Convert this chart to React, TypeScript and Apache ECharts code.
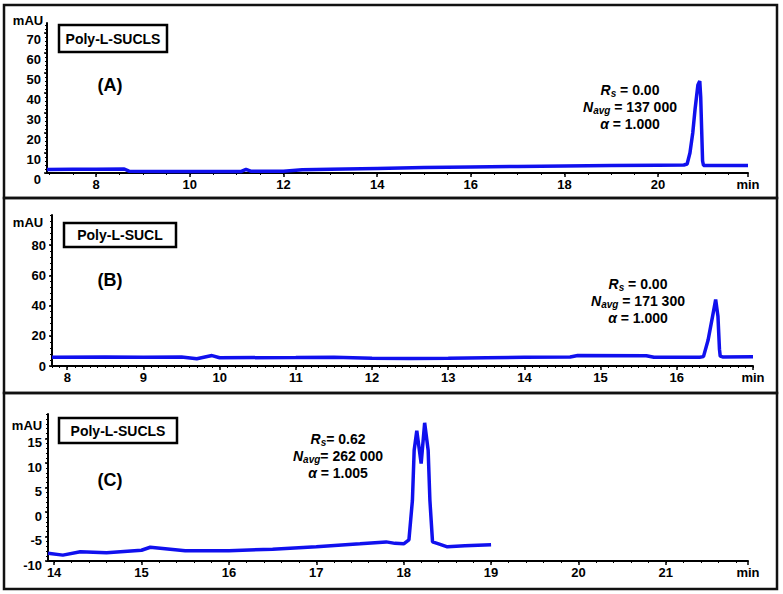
import React, { useEffect, useRef } from "react";
import * as echarts from "echarts";

const FONT = '"Liberation Sans", Arial, Helvetica, sans-serif';
const BLUE = "#1010ee";

// Panel A – Poly-L-SUCLS (time in min, signal in mAU)
const A_TIME = [6.95, 7.5, 8.0, 8.6, 8.7, 9.5, 10.5, 11.1, 11.2, 11.3, 12.0, 12.4, 13.0, 14.0, 15.0, 16.0, 17.0, 18.0, 19.0, 20.0, 20.55, 20.62, 20.68, 20.74, 20.79, 20.85, 20.89, 20.91, 20.93, 20.95, 20.97, 21.4, 21.92];
const A_MAU = [1.8, 1.9, 1.9, 2.0, 0.9, 0.8, 0.7, 0.8, 1.8, 0.9, 0.9, 1.6, 1.9, 2.3, 2.7, 3.0, 3.3, 3.5, 3.7, 3.9, 4.0, 4.5, 10, 20, 32, 44, 46, 38, 22, 6, 3.8, 3.7, 3.7];

// Panel B – Poly-L-SUCL
const B_TIME = [7.8, 8.5, 9.0, 9.5, 9.7, 9.9, 10.0, 11.0, 11.5, 12.0, 12.5, 13.0, 13.5, 14.0, 14.6, 14.7, 15.6, 15.7, 16.3, 16.35, 16.41, 16.47, 16.51, 16.54, 16.56, 16.57, 16.6, 17.0];
const B_MAU = [5.8, 6.0, 5.8, 6.0, 4.8, 6.9, 5.5, 5.6, 5.8, 5.1, 5.0, 5.1, 5.5, 5.8, 5.9, 6.9, 6.8, 5.8, 5.8, 6.2, 17, 33, 44, 33, 11, 6.5, 6.0, 6.2];

// Panel C – Poly-L-SUCLS
const C_TIME = [13.93, 14.1, 14.3, 14.6, 15.0, 15.1, 15.5, 16.0, 16.5, 17.0, 17.5, 17.8, 17.9, 18.0, 18.06, 18.1, 18.12, 18.15, 18.2, 18.24, 18.28, 18.3, 18.33, 18.4, 18.5, 18.7, 19.0];
const C_MAU = [-8.4, -8.8, -8.1, -8.3, -7.8, -7.2, -7.9, -7.9, -7.6, -7.1, -6.5, -6.1, -6.4, -6.5, -5.7, 2.4, 12.6, 16.6, 9.9, 18.2, 12.6, 2.4, -6.1, -6.5, -7.1, -6.9, -6.7];

// Tick labels
const A_XTICKS = [8, 10, 12, 14, 16, 18, 20];
const A_YTICKS = [0, 10, 20, 30, 40, 50, 60, 70];
const B_XTICKS = [8, 9, 10, 11, 12, 13, 14, 15, 16];
const B_YTICKS = [0, 20, 40, 60, 80];
const C_XTICKS = [14, 15, 16, 17, 18, 19, 20, 21];
const C_YTICKS = [-10, -5, 0, 5, 10, 15];

const steps = (start: number, end: number, step: number) => {
  const out: number[] = [];
  const n = Math.floor((end - start) / step + 1e-6);
  for (let i = 0; i <= n; i++) out.push(Math.round((start + i * step) * 1000) / 1000);
  return out;
};

const mainX = (grid: number, min: number, max: number, ticks: number[]) => ({
  type: "value",
  gridIndex: grid,
  position: "bottom",
  min,
  max,
  axisLine: { show: true, onZero: false, lineStyle: { color: "#000", width: 2 } },
  axisTick: { show: true, customValues: [...ticks, max], length: 4, lineStyle: { color: "#000", width: 1.5 } },
  axisLabel: {
    customValues: [...ticks, max],
    formatter: (v: number) => (Math.abs(v - max) < 1e-6 ? "min" : String(v)),
    color: "#000",
    fontSize: 13,
    fontWeight: "bold",
    fontFamily: FONT,
    margin: 5,
  },
  splitLine: { show: false },
});

const minorX = (grid: number, min: number, max: number, vals: number[]) => ({
  type: "value",
  gridIndex: grid,
  position: "bottom",
  min,
  max,
  axisLine: { show: false, onZero: false },
  axisLabel: { show: false },
  axisTick: { show: true, customValues: vals, length: 2, lineStyle: { color: "#000", width: 1 } },
  splitLine: { show: false },
});

const mainY = (grid: number, min: number, max: number, ticks: number[], shift: number) => ({
  type: "value",
  gridIndex: grid,
  position: "left",
  min,
  max,
  axisLine: { show: true, onZero: false, lineStyle: { color: "#000", width: 2 } },
  axisTick: { show: true, customValues: ticks, length: 3, lineStyle: { color: "#000", width: 1.5 } },
  axisLabel: {
    customValues: ticks,
    color: "#000",
    fontSize: 13,
    fontWeight: "bold",
    fontFamily: FONT,
    margin: 6,
    verticalAlign: shift > 0 ? "top" : "middle",
    lineHeight: shift > 0 ? shift * 2 : 15,
  },
  splitLine: { show: false },
});

const minorY = (grid: number, min: number, max: number, vals: number[]) => ({
  type: "value",
  gridIndex: grid,
  position: "left",
  min,
  max,
  axisLine: { show: false, onZero: false },
  axisLabel: { show: false },
  axisTick: { show: true, customValues: vals, length: 2, lineStyle: { color: "#000", width: 1 } },
  splitLine: { show: false },
});

const annot = (x: number, y: number, lines: string) => ({
  type: "text",
  x,
  y,
  style: {
    text: lines,
    align: "center",
    verticalAlign: "middle",
    fill: "#000",
    rich: {
      i: { fontFamily: FONT, fontSize: 14, fontWeight: "bold", fontStyle: "italic", lineHeight: 17, verticalAlign: "middle", fill: "#000" },
      b: { fontFamily: FONT, fontSize: 14, fontWeight: "bold", lineHeight: 17, verticalAlign: "middle", fill: "#000" },
      s: { fontFamily: FONT, fontSize: 10, fontWeight: "bold", fontStyle: "italic", lineHeight: 10, verticalAlign: "top", padding: [7, 0, 0, 0], fill: "#000" },
    },
  },
});

const labelBox = (x: number, y: number, w: number, h: number, text: string) => ({
  type: "group",
  children: [
    { type: "rect", shape: { x, y, width: w, height: h }, style: { fill: "#fff", stroke: "#000", lineWidth: 2.5 } },
    {
      type: "text",
      x: x + w / 2,
      y: y + h / 2,
      style: { text, align: "center", verticalAlign: "middle", fontFamily: FONT, fontSize: 14, fontWeight: "bold", fill: "#000" },
    },
  ],
});

const plainText = (x: number, y: number, text: string, size: number, align = "center") => ({
  type: "text",
  x,
  y,
  style: { text, align, verticalAlign: "middle", fontFamily: FONT, fontSize: size, fontWeight: "bold", fill: "#000" },
});

const panelRect = (y1: number, y2: number) => ({
  type: "rect",
  shape: { x: 4, y: y1, width: 773, height: y2 - y1 },
  style: { fill: "none", stroke: "#111", lineWidth: 2.5 },
  z: 10,
});

export default function App() {
  const ref = useRef<HTMLDivElement>(null);
  useEffect(() => {
    if (!ref.current) return;
    const chart = echarts.init(ref.current, null, { renderer: "svg" });
    const mkSeries = (idx: number, t: number[], v: number[]) => ({
      type: "line",
      xAxisIndex: idx,
      yAxisIndex: idx,
      data: t.map((x, i) => [x, v[i]]),
      showSymbol: false,
      symbol: "none",
      lineStyle: { color: BLUE, width: 3.5 },
      itemStyle: { color: BLUE },
      z: 3,
    });
    chart.setOption({
      animation: false,
      backgroundColor: "#fff",
      grid: [
        { left: 47, top: 23, width: 701, height: 150 },
        { left: 52, top: 215, width: 701, height: 151 },
        { left: 48, top: 414, width: 700, height: 147 },
      ],
      xAxis: [
        mainX(0, 6.95, 21.92, A_XTICKS),
        mainX(1, 7.8, 17, B_XTICKS),
        mainX(2, 13.93, 21.94, C_XTICKS),
        minorX(0, 6.95, 21.92, steps(7, 21.5, 0.5)),
        minorX(1, 7.8, 17, steps(7.8, 17, 0.1)),
        minorX(2, 13.93, 21.94, steps(14, 21.8, 0.2)),
      ],
      yAxis: [
        mainY(0, 0, 75, A_YTICKS, 6),
        mainY(1, 0, 100, B_YTICKS, 0),
        mainY(2, -10, 20, C_YTICKS, 4),
        minorY(0, 0, 75, steps(0, 74, 2)),
        minorY(1, 0, 100, steps(0, 100, 4)),
        minorY(2, -10, 20, steps(-10, 20, 1)),
      ],
      series: [mkSeries(0, A_TIME, A_MAU), mkSeries(1, B_TIME, B_MAU), mkSeries(2, C_TIME, C_MAU)],
      graphic: [
        panelRect(5, 198),
        panelRect(198, 393),
        panelRect(393, 589),
        plainText(28, 20, "mAU", 13),
        plainText(28, 222, "mAU", 13),
        plainText(27, 425, "mAU", 13),
        labelBox(59, 25, 108, 27, "Poly-L-SUCLS"),
        labelBox(64, 223, 112, 24, "Poly-L-SUCL"),
        labelBox(59, 418, 118, 25, "Poly-L-SUCLS"),
        plainText(110, 85, "(A)", 18),
        plainText(110, 280, "(B)", 18),
        plainText(110, 480, "(C)", 18),
        annot(630, 107, "{i|R}{s|s}{b| = 0.00}\n{i|N}{s|avg}{b| = 137 000}\n{i|α}{b| = 1.000}"),
        annot(638, 301, "{i|R}{s|s}{b| = 0.00}\n{i|N}{s|avg}{b| = 171 300}\n{i|α}{b| = 1.000}"),
        annot(338, 456, "{i|R}{s|s}{b|= 0.62}\n{i|N}{s|avg}{b|= 262 000}\n{i|α}{b| = 1.005}"),
      ],
    });
    return () => chart.dispose();
  }, []);
  return <div ref={ref} style={{ position: "fixed", left: 0, top: 0, width: 783, height: 594, background: "#fff" }} />;
}
